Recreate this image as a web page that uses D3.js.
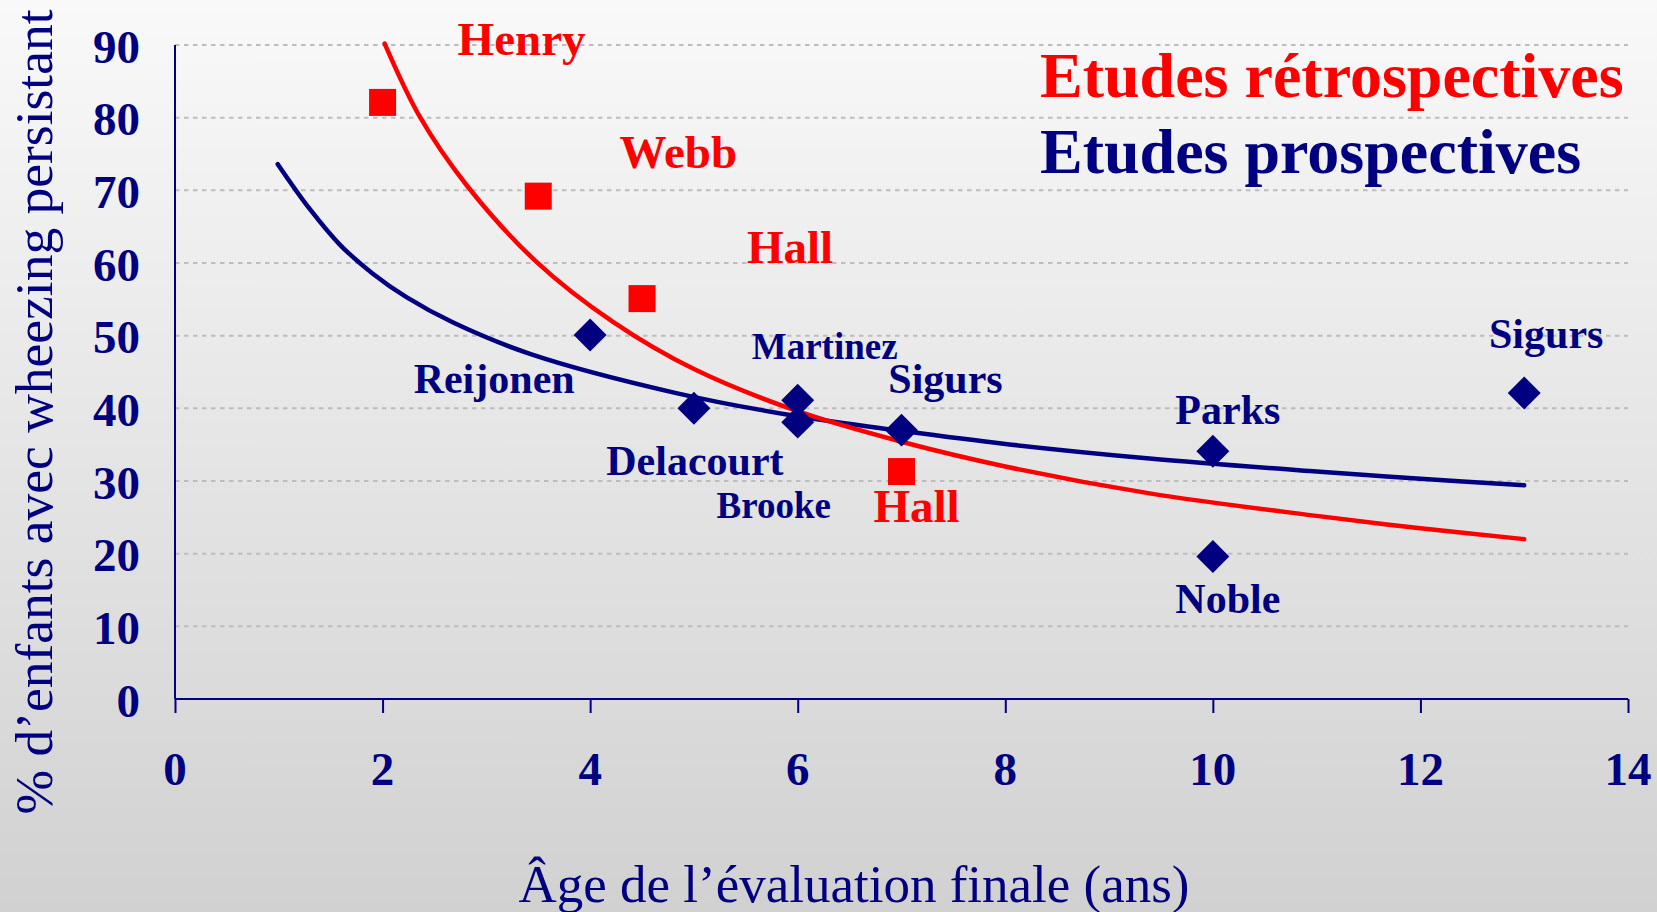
<!DOCTYPE html>
<html>
<head>
<meta charset="utf-8">
<script src="https://cdn.jsdelivr.net/npm/d3@7"></script>
<style>
  html, body { margin: 0; padding: 0; overflow: hidden; }
  body { width: 1657px; height: 912px; }
  text { font-family: "Liberation Serif", "Times New Roman", serif; }
</style>
</head>
<body>
<svg id="chart" width="1657" height="912"></svg>
<script>
// ---- Data ----
const retroAge   = [2, 3.5, 4.5, 7];
const retroPct   = [82.1, 69.2, 55.1, 31.3];
const retroNames = ["Henry", "Webb", "Hall", "Hall"];

const prospAge   = [4, 5, 6, 6, 7, 10, 10, 13];
const prospPct   = [50.1, 40.0, 41.1, 38.1, 37.0, 34.1, 19.6, 42.1];
const prospNames = ["Reijonen", "Delacourt", "Martinez", "Brooke", "Sigurs", "Parks", "Noble", "Sigurs"];

const retroTrendAge = [2.02, 2.36, 2.81, 3.48, 4.22, 5, 6, 7, 8, 9.39, 11, 12, 13];
const retroTrendPct = [90.2, 80.1, 70.7, 60.2, 51.9, 45.4, 39.6, 35.4, 32.0, 28.3, 25.2, 23.5, 22.0];

const prospTrendAge = [0.99, 1.3, 1.59, 1.9, 2.23, 2.68, 3.42, 4.83, 6, 7, 8, 9.39, 11, 12, 13];
const prospTrendPct = [73.6, 67.4, 62.5, 58.6, 55.3, 51.8, 47.5, 42.1, 38.9, 36.9, 35.1, 33.1, 31.3, 30.3, 29.4];

const xTicks = [0, 2, 4, 6, 8, 10, 12, 14];
const yTicks = [0, 10, 20, 30, 40, 50, 60, 70, 80, 90];

const legendTexts = ["Etudes rétrospectives", "Etudes prospectives"];
const xTitle = "Âge de l’évaluation finale (ans)";
const yTitle = "% d’enfants avec wheezing persistant";

// ---- Layout / style (kept apart from data) ----
const RED = "#ff0000", NAVY = "#000080";
const FONT = "'Liberation Serif', 'Times New Roman', serif";
const retroLabelLayout = [
  {dx: 139, dy: -47, size: 47},
  {dx: 140, dy: -28, size: 47},
  {dx: 148, dy: -36, size: 47},
  {dx: 15,  dy: 50,  size: 47}
];
const prospLabelLayout = [
  {dx: -96, dy: 58, size: 42},
  {dx: 1,   dy: 67, size: 42},
  {dx: 27,  dy: -41, size: 37},
  {dx: -24, dy: 96, size: 37},
  {dx: 44,  dy: -37, size: 42},
  {dx: 15,  dy: -27, size: 42},
  {dx: 15,  dy: 56, size: 42},
  {dx: 22,  dy: -45, size: 42}
];

const svg = d3.select("#chart");

// background gradient
const defs = svg.append("defs");
const grad = defs.append("linearGradient").attr("id", "bg")
  .attr("x1", 0).attr("y1", 0).attr("x2", 0).attr("y2", 1);
grad.append("stop").attr("offset", "0%").attr("stop-color", "#f9f9f9");
grad.append("stop").attr("offset", "100%").attr("stop-color", "#d1d1d1");
svg.append("rect").attr("width", 1657).attr("height", 912).attr("fill", "url(#bg)");

const x = d3.scaleLinear().domain([0, 14]).range([175, 1628]);
const y = d3.scaleLinear().domain([0, 90]).range([699, 45]);

// gridlines
svg.append("g").selectAll("line").data(yTicks.filter(d => d > 0)).join("line")
  .attr("x1", x(0)).attr("x2", x(14))
  .attr("y1", d => y(d)).attr("y2", d => y(d))
  .attr("stroke", "#bdbdbd").attr("stroke-width", 2)
  .attr("stroke-dasharray", "4.5,4.5");

// x axis
const xAxis = d3.axisBottom(x).tickValues(xTicks).tickSize(14).tickFormat("");
const gx = svg.append("g").attr("transform", `translate(0,${y(0)})`).call(xAxis);
gx.select(".domain").attr("stroke", NAVY).attr("stroke-width", 2).attr("d", `M${x(0)},0H${x(14)}`);
gx.selectAll(".tick line").attr("stroke", NAVY).attr("stroke-width", 2);

// y axis (line only)
const yAxis = d3.axisLeft(y).tickValues(yTicks).tickSize(0).tickFormat("");
const gy = svg.append("g").attr("transform", `translate(${x(0)},0)`).call(yAxis);
gy.select(".domain").attr("stroke", NAVY).attr("stroke-width", 2).attr("d", `M0,${y(90)}V${y(0)}`);

// tick labels
svg.append("g").selectAll("text").data(yTicks).join("text")
  .attr("x", 140).attr("y", d => y(d) + 17.5)
  .attr("text-anchor", "end")
  .attr("font-family", FONT).attr("font-weight", "bold").attr("font-size", 47)
  .attr("fill", NAVY).text(d => d);
svg.append("g").selectAll("text").data(xTicks).join("text")
  .attr("x", d => x(d)).attr("y", 785)
  .attr("text-anchor", "middle")
  .attr("font-family", FONT).attr("font-weight", "bold").attr("font-size", 47)
  .attr("fill", NAVY).text(d => d);

// axis titles
svg.append("text")
  .attr("transform", "translate(52,412) rotate(-90)")
  .attr("text-anchor", "middle")
  .attr("font-family", FONT).attr("font-size", 53.5).attr("fill", NAVY)
  .text(yTitle);
svg.append("text")
  .attr("x", 854).attr("y", 902)
  .attr("text-anchor", "middle")
  .attr("font-family", FONT).attr("font-size", 53).attr("fill", NAVY)
  .text(xTitle);

// trend curves
const line = d3.line().x(d => x(d[0])).y(d => y(d[1])).curve(d3.curveCatmullRom.alpha(0.5));
const prospTrend = prospTrendAge.map((a, i) => [a, prospTrendPct[i]]);
const retroTrend = retroTrendAge.map((a, i) => [a, retroTrendPct[i]]);
svg.append("path").attr("d", line(prospTrend))
  .attr("fill", "none").attr("stroke", NAVY).attr("stroke-width", 4.5).attr("stroke-linecap", "round");
svg.append("path").attr("d", line(retroTrend))
  .attr("fill", "none").attr("stroke", RED).attr("stroke-width", 4.5).attr("stroke-linecap", "round");

// markers
const retro = retroAge.map((a, i) => ({age: a, pct: retroPct[i], name: retroNames[i], lay: retroLabelLayout[i]}));
const prosp = prospAge.map((a, i) => ({age: a, pct: prospPct[i], name: prospNames[i], lay: prospLabelLayout[i]}));

const square = d3.symbol().type(d3.symbolSquare).size(27 * 27);
const diamond = d3.symbol().type(d3.symbolSquare).size(23.3 * 23.3);

svg.append("g").selectAll("path").data(prosp).join("path")
  .attr("d", diamond())
  .attr("transform", d => `translate(${x(d.age)},${y(d.pct)}) rotate(45)`)
  .attr("fill", NAVY);
svg.append("g").selectAll("path").data(retro).join("path")
  .attr("d", square())
  .attr("transform", d => `translate(${x(d.age)},${y(d.pct)})`)
  .attr("fill", RED);

// point labels
svg.append("g").selectAll("text").data(prosp).join("text")
  .attr("x", d => x(d.age) + d.lay.dx).attr("y", d => y(d.pct) + d.lay.dy)
  .attr("text-anchor", "middle")
  .attr("font-family", FONT).attr("font-weight", "bold").attr("font-size", d => d.lay.size)
  .attr("fill", NAVY).text(d => d.name);
svg.append("g").selectAll("text").data(retro).join("text")
  .attr("x", d => x(d.age) + d.lay.dx).attr("y", d => y(d.pct) + d.lay.dy)
  .attr("text-anchor", "middle")
  .attr("font-family", FONT).attr("font-weight", "bold").attr("font-size", d => d.lay.size)
  .attr("fill", RED).text(d => d.name);

// legend texts
svg.append("text").attr("x", 1040).attr("y", 97)
  .attr("font-family", FONT).attr("font-weight", "bold").attr("font-size", 64)
  .attr("fill", RED).text(legendTexts[0]);
svg.append("text").attr("x", 1040).attr("y", 173)
  .attr("font-family", FONT).attr("font-weight", "bold").attr("font-size", 64)
  .attr("fill", NAVY).text(legendTexts[1]);
</script>
</body>
</html>
